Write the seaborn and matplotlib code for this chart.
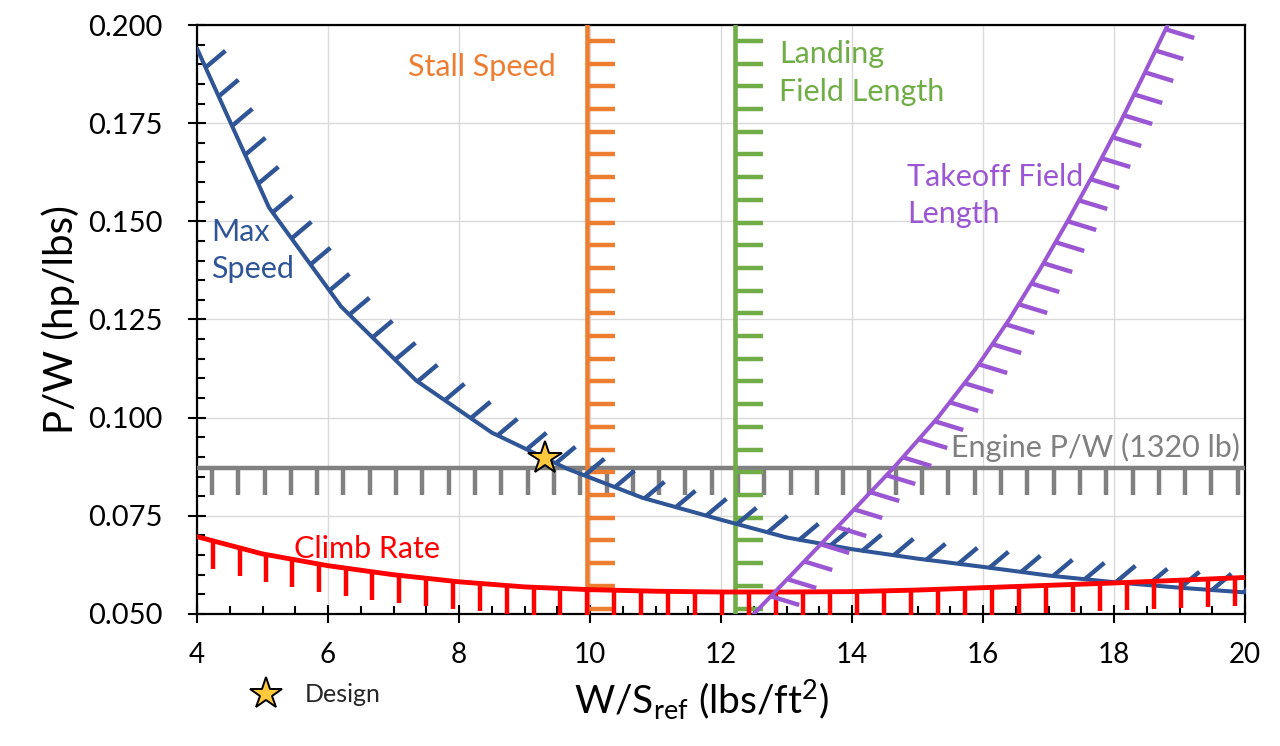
import numpy as np
import matplotlib
matplotlib.use("Agg")
import matplotlib.pyplot as plt
from matplotlib.path import Path
from matplotlib.lines import Line2D
from matplotlib.ticker import MultipleLocator, FormatStrFormatter
import seaborn as sns

# Constraint curves: wing loading W/S (lbs/ft^2) vs. power loading P/W (hp/lbs)
max_speed_ws = [4.0, 5.1, 6.2, 7.35, 8.5, 9.65, 10.8, 12.0, 13.0, 14.0, 15.0, 16.0, 17.0, 18.0, 19.0, 20.0]
max_speed_pw = [0.194, 0.1535, 0.1283, 0.1094, 0.0962, 0.0870, 0.0796, 0.0740, 0.0695, 0.0665,
                0.0641, 0.0620, 0.0598, 0.0581, 0.0567, 0.0555]

climb_ws = [4, 5, 6, 7, 8, 9, 10, 11, 12, 13, 14, 15, 16, 17, 18, 19, 20]
climb_pw = [0.0697, 0.0653, 0.0623, 0.0600, 0.0582, 0.0569, 0.0562, 0.0558, 0.0556, 0.0556,
            0.0557, 0.0561, 0.0567, 0.0573, 0.0579, 0.0586, 0.0593]

takeoff_ws = [12.5, 13.22, 13.94, 14.65, 15.31, 15.89, 16.40, 16.86, 17.29, 17.70, 18.09, 18.46, 18.82]
takeoff_pw = [0.050, 0.0625, 0.075, 0.0875, 0.100, 0.1125, 0.125, 0.1375, 0.150, 0.1625, 0.175,
              0.1875, 0.200]

stall_ws = 9.95        # stall speed limit
landing_ws = 12.22     # landing field length limit
engine_pw = 0.0872     # installed engine P/W (1320 lb)

design_ws = 9.31
design_pw = 0.0897

X_LIM = (4, 20)
Y_LIM = (0.05, 0.20)

C_BLUE = "#2F5597"
C_ORANGE = "#ED7D31"
C_GREEN = "#70AD47"
C_RED = "#FF0000"
C_PURPLE = "#9B57D3"
C_GRAY = "#808080"
C_STAR = "#FFC83D"

sns.set_theme(style="white")
plt.rcParams["font.family"] = ["Lato", "DejaVu Sans"]
plt.rcParams["mathtext.fontset"] = "custom"
plt.rcParams["mathtext.rm"] = "Lato"
plt.rcParams["mathtext.it"] = "Lato:italic"

W, H = 1280, 746
fig = plt.figure(figsize=(W / 100, H / 100), dpi=100)
fig.patch.set_facecolor("white")
L, R, T, B = 197, 1245, 25, 614
ax = fig.add_axes([L / W, 1 - B / H, (R - L) / W, (B - T) / H])
ax.set_xlim(*X_LIM)
ax.set_ylim(*Y_LIM)

PT_PER_PX = 72 / fig.dpi
HATCH_W = 3.2


def add_hatches(x, y, color, angle_deg, length_px, spacing_px, start_px, zorder):
    """Short constraint ticks along a curve, evenly spaced by on-screen arc length."""
    pts = ax.transData.transform(np.column_stack([x, y]))
    steps = np.hypot(np.diff(pts[:, 0]), np.diff(pts[:, 1]))
    arc = np.concatenate([[0.0], np.cumsum(steps)])
    s = np.arange(start_px, arc[-1], spacing_px)
    hx = np.interp(s, arc, pts[:, 0])
    hy = np.interp(s, arc, pts[:, 1])
    data = ax.transData.inverted().transform(np.column_stack([hx, hy]))
    a = np.deg2rad(angle_deg)
    dx, dy = np.cos(a), np.sin(a)
    marker = Path([(0.0, 0.0), (dx, dy)])
    ms = 2 * length_px * PT_PER_PX * max(abs(dx), abs(dy))
    ax.plot(data[:, 0], data[:, 1], ls="none", marker=marker, ms=ms, mew=HATCH_W,
            mec=color, mfc="none", zorder=zorder)


# Engine P/W line
gx, gy = list(X_LIM), [engine_pw, engine_pw]
sns.lineplot(x=gx, y=gy, ax=ax, color=C_GRAY, lw=3.2, estimator=None, sort=False, zorder=3)
add_hatches(gx, gy, C_GRAY, -90, 27, 26.3, 15, 3)

# Stall speed
ox, oy = [stall_ws, stall_ws], [Y_LIM[1], Y_LIM[0]]
sns.lineplot(x=ox, y=oy, ax=ax, color=C_ORANGE, lw=3.3, estimator=None, sort=False, zorder=4)
add_hatches(ox, oy, C_ORANGE, 0, 28, 22.7, 16, 4)

# Landing field length
lx, ly = [landing_ws, landing_ws], [Y_LIM[1], Y_LIM[0]]
sns.lineplot(x=lx, y=ly, ax=ax, color=C_GREEN, lw=3.3, estimator=None, sort=False, zorder=4)
add_hatches(lx, ly, C_GREEN, 0, 28, 22.7, 16, 4)

# Max speed
sns.lineplot(x=max_speed_ws, y=max_speed_pw, ax=ax, color=C_BLUE, lw=2.9, estimator=None,
             sort=False, zorder=5)
add_hatches(max_speed_ws, max_speed_pw, C_BLUE, 40, 26, 32, 20, 5)

# Climb rate
sns.lineplot(x=climb_ws, y=climb_pw, ax=ax, color=C_RED, lw=3.5, estimator=None, sort=False, zorder=6)
add_hatches(climb_ws, climb_pw, C_RED, -90, 28, 27, 17, 6)

# Takeoff field length
sns.lineplot(x=takeoff_ws, y=takeoff_pw, ax=ax, color=C_PURPLE, lw=2.9, estimator=None,
             sort=False, zorder=7)
add_hatches(takeoff_ws, takeoff_pw, C_PURPLE, -17, 29, 24, 25, 7)

# Design point
ax.plot([design_ws], [design_pw], ls="none", marker="*", ms=25, mfc=C_STAR, mec="black",
        mew=1.4, zorder=10)

# Curve labels
LBL = 22
LSP = 1.4
ax.text(9.48, 0.1892, "Stall Speed", color=C_ORANGE, fontsize=LBL, ha="right", va="center")
ax.text(12.89, 0.1878, "Landing\nField Length", color=C_GREEN, fontsize=LBL, ha="left",
        va="center", linespacing=LSP)
ax.text(14.84, 0.1565, "Takeoff Field\nLength", color=C_PURPLE, fontsize=LBL, ha="left",
        va="center", linespacing=LSP)
ax.text(4.21, 0.1426, "Max\nSpeed", color=C_BLUE, fontsize=LBL, ha="left", va="center",
        linespacing=LSP)
ax.text(5.48, 0.0666, "Climb Rate", color=C_RED, fontsize=LBL, ha="left", va="center")
ax.text(19.92, 0.0925, "Engine P/W (1320 lb)", color=C_GRAY, fontsize=LBL, ha="right", va="center")

# Axes styling
ax.grid(True, which="major", color="#D9D9D9", lw=1.0)
ax.set_axisbelow(True)
for sp in ax.spines.values():
    sp.set_visible(True)
    sp.set_color("black")
    sp.set_linewidth(1.6)

ax.xaxis.set_major_locator(MultipleLocator(2))
ax.xaxis.set_minor_locator(MultipleLocator(0.5))
ax.yaxis.set_major_locator(MultipleLocator(0.025))
ax.yaxis.set_minor_locator(MultipleLocator(0.005))
ax.yaxis.set_major_formatter(FormatStrFormatter("%.3f"))
ax.tick_params(which="major", direction="inout", length=13, width=1.5, color="black",
               bottom=True, left=True, top=False, right=False, labelcolor="black")
ax.tick_params(axis="y", which="major", pad=18, labelsize=21)
ax.tick_params(axis="x", which="major", pad=14, labelsize=20)
ax.tick_params(which="minor", direction="in", length=6, width=1.5, color="black",
               bottom=True, left=True, top=False, right=False)

ax.set_xlabel(r"W/S$_{\mathregular{ref}}$ (lbs/ft$^{\mathregular{2}}$)", fontsize=28, color="black")
ax.set_ylabel("P/W (hp/lbs)", fontsize=29, color="black")
ax.xaxis.set_label_coords((702 - L) / (R - L), -(678 - B) / (B - T))
ax.yaxis.set_label_coords(-(L - 80) / (R - L), 0.5)

# Legend for the design point
star_handle = Line2D([], [], ls="none", marker="*", ms=24, mfc=C_STAR, mec="black", mew=1.4)
fig.legend([star_handle], ["Design"], loc="center left", bbox_to_anchor=(250 / W, 1 - 695 / H),
           frameon=False, fontsize=18, handlelength=1.3, handletextpad=0.9, borderpad=0,
           borderaxespad=0, numpoints=1)

fig.savefig("out.png", dpi=100, facecolor="white")
